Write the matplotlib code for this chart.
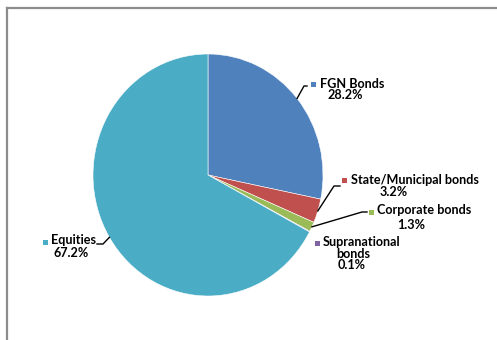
import matplotlib
matplotlib.use("Agg")
import matplotlib.pyplot as plt
import numpy as np
from matplotlib.lines import Line2D
from matplotlib.patches import Rectangle

categories = ["FGN Bonds", "State/Municipal bonds", "Corporate bonds",
              "Supranational\nbonds", "Equities"]
shares = [28.2, 3.2, 1.3, 0.1, 67.2]
colors = ["#4F81BD", "#C0504D", "#9BBB59", "#8064A2", "#4BACC6"]

W, H = 497, 340
fig = plt.figure(figsize=(W / 100, H / 100), dpi=100)
fig.patch.set_facecolor("white")


def fx(px):
    return px / W


def fy(py):
    return 1 - py / H


# chart frame (top and left edges)
frame_kw = dict(color="#8c8c8c", lw=1.6, transform=fig.transFigure)
fig.add_artist(Line2D([fx(7), fx(497)], [fy(8), fy(8)], **frame_kw))
fig.add_artist(Line2D([fx(7), fx(7)], [fy(8), fy(340)], **frame_kw))

# pie area (slightly stretched vertically)
ax = fig.add_axes([fx(93), fy(296), fx(230), 242 / H])
wedges, _ = ax.pie(shares, colors=colors, startangle=90, counterclock=False,
                   wedgeprops=dict(edgecolor="white", linewidth=0.4))
ax.set_aspect("auto")
ax.set_xlim(-1, 1)
ax.set_ylim(-1, 1)
ax.axis("off")

fontkw = dict(family="Lato", fontweight="bold", fontsize=9.1, color="black")

# label layout: marker, first name line (left, center y), further name lines
# (center x, center y), value (center x, center y), leader elbow points
layout = [
    dict(marker=(313, 84), name=(320, 84), more=[], value=(345, 95),
         elbow=[(304, 86), (307, 86)], angle=None),
    dict(marker=(344, 180), name=(351, 180), more=[], value=(394, 192),
         elbow=[(334, 186), (340, 186)], angle=None),
    dict(marker=(371, 212), name=(377, 210), more=[], value=(411, 225),
         elbow=[(362, 212), (367, 212)], angle=None),
    dict(marker=(317, 243), name=(323, 242), more=[(353, 254)], value=(352, 265),
         elbow=None, angle=None),
    dict(marker=(45, 242), name=(51, 240), more=[], value=(71, 253),
         elbow=[(103, 244), (97, 244)], angle=211),
]

for w, cat, val, col, lay in zip(wedges, categories, shares, colors, layout):
    mx, my = lay["marker"]
    fig.add_artist(Rectangle((fx(mx - 2.5), fy(my + 2.5)), fx(5), 5 / H,
                             facecolor=col, edgecolor="none", transform=fig.transFigure))
    lines = cat.split("\n")
    nx, ny = lay["name"]
    fig.text(fx(nx), fy(ny), lines[0], ha="left", va="center", **fontkw)
    for text, (cx, cy) in zip(lines[1:], lay["more"]):
        fig.text(fx(cx), fy(cy), text, ha="center", va="center", **fontkw)
    vx, vy = lay["value"]
    fig.text(fx(vx), fy(vy), f"{val:.1f}%", ha="center", va="center", **fontkw)
    if lay["elbow"] is not None:
        if lay["angle"] is not None:
            ang = np.deg2rad(lay["angle"])
        else:
            ang = np.deg2rad((w.theta1 + w.theta2) / 2)
        disp = ax.transData.transform((np.cos(ang), np.sin(ang)))
        start = fig.transFigure.inverted().transform(disp)
        xs = [start[0]] + [fx(e[0]) for e in lay["elbow"]]
        ys = [start[1]] + [fy(e[1]) for e in lay["elbow"]]
        fig.add_artist(Line2D(xs, ys, color="black", lw=1.0, transform=fig.transFigure))

fig.savefig("out.png", dpi=100)
